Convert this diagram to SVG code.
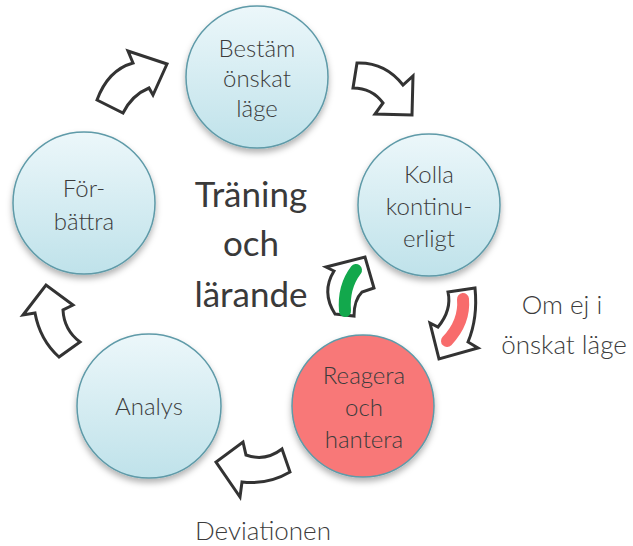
<svg xmlns="http://www.w3.org/2000/svg" width="633" height="546" viewBox="0 0 633 546">
<defs>
<linearGradient id="blue" x1="0" y1="0" x2="0" y2="1">
<stop offset="0" stop-color="#ecf7fa"/>
<stop offset="1" stop-color="#bfe2ea"/>
</linearGradient>
<filter id="sh" x="-20%" y="-20%" width="140%" height="150%">
<feDropShadow dx="0" dy="4" stdDeviation="3" flood-color="#000" flood-opacity="0.3"/>
</filter>
</defs>
<style>
.node circle{stroke:#5e9aa8;stroke-width:1.5;filter:url(#sh)}
.blue{fill:url(#blue)}
.red{fill:#f87878}
.nt{font-family:Lato,"Open Sans",sans-serif;font-size:24px;font-weight:300;fill:#3c3c3c;text-anchor:middle}
.title{font-family:Lato,"Open Sans",sans-serif;font-size:35px;fill:#3a3a3a;text-anchor:middle}
.lbl{font-family:Lato,"Open Sans",sans-serif;font-size:26px;font-weight:300;fill:#3c3c3c;text-anchor:middle}
.arr{fill:#fff;stroke:#333;stroke-width:3;stroke-linejoin:miter}
.band{fill:none;stroke-width:12;stroke-linecap:round}
</style>
<rect width="633" height="546" fill="#fff"/>
<g id="connectors">
<path class="arr" d="M97,100 L123,113 Q132,95 149,88 L153,95 L167,64 L128,51 L133,63 Q108,70 97,100 Z"/>
<path class="arr" d="M357,63 L353,88 Q372,88 383,103 L375,114 L412,115 L413,76 L403,85 Q385,62 357,63 Z"/>
<path class="arr" d="M335,314 L354,316 Q354,300 362,292 L374,288 L365,257 L326,267 L334,271 Q321,292 335,314 Z"/>
<path class="band" stroke="#12a84c" d="M345,311 Q343,287 356,270"/>
<path class="arr" d="M448,292 L475,288 Q478,318 468,342 L478,348 L439,359 L430,323 L438,327 Q452,310 448,292 Z"/>
<path class="band" stroke="#f86c6c" d="M463,299 Q465,322 447,341"/>
<path class="arr" d="M282,449 L290,472 Q268,485 242,482 L240,497 L216,462 L243,442 L246,455 Q265,462 282,449 Z"/>
<path class="arr" d="M59,357 L80,342 Q64,330 63,310 L73,305 L46,285 L23,315 L35,313 Q40,340 59,357 Z"/>
</g>
<g id="n-bestam" class="node">
<circle class="blue" cx="257" cy="77" r="71"/>
<text class="nt" x="257" y="57">Bestäm</text>
<text class="nt" x="257" y="87">önskat</text>
<text class="nt" x="257" y="117">läge</text>
</g>
<g id="n-kolla" class="node">
<circle class="blue" cx="429" cy="205" r="71"/>
<text class="nt" x="429" y="183">Kolla</text>
<text class="nt" x="429" y="215">kontinu-</text>
<text class="nt" x="429" y="247">erligt</text>
</g>
<g id="n-reagera" class="node">
<circle class="red" cx="363" cy="406" r="71"/>
<text class="nt" x="364" y="384">Reagera</text>
<text class="nt" x="364" y="416">och</text>
<text class="nt" x="364" y="448">hantera</text>
</g>
<g id="n-analys" class="node">
<circle class="blue" cx="149" cy="406" r="72"/>
<text class="nt" x="149" y="415">Analys</text>
</g>
<g id="n-forbattra" class="node">
<circle class="blue" cx="84" cy="203" r="71"/>
<text class="nt" x="84" y="197">För-</text>
<text class="nt" x="84" y="230">bättra</text>
</g>
<g id="title">
<text class="title" x="251" y="207">Träning</text>
<text class="title" x="251" y="256">och</text>
<text class="title" x="251" y="307">lärande</text>
</g>
<g id="labels">
<text class="lbl" x="562" y="314">Om ej i</text>
<text class="lbl" x="564" y="354">önskat läge</text>
<text class="lbl" x="263" y="540">Deviationen</text>
</g>
</svg>
